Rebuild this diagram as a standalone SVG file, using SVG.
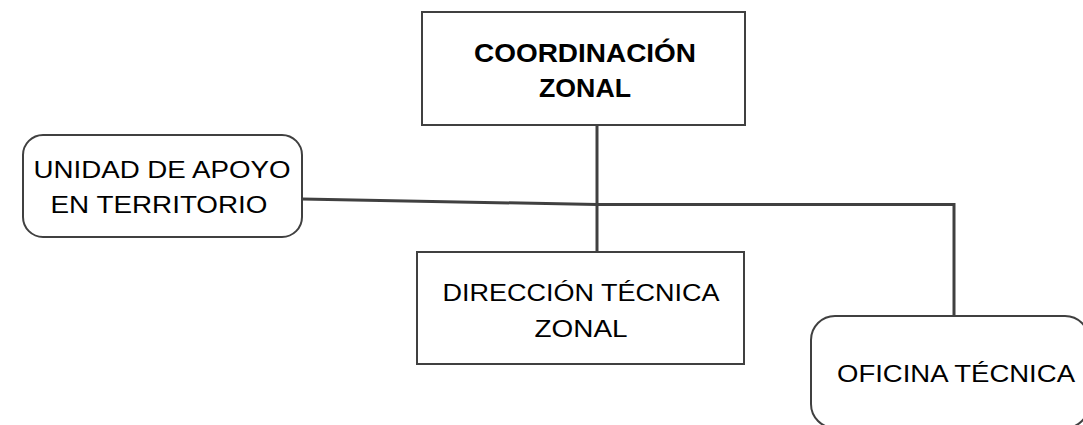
<svg xmlns="http://www.w3.org/2000/svg" width="1083" height="425" viewBox="0 0 1083 425">
<style>
.box{fill:#fff;stroke:#404040;stroke-width:2}
.conn{fill:none;stroke:#404040;stroke-width:3}
.t{font-family:"Liberation Sans",Arial,sans-serif;font-size:24px;fill:#000;text-anchor:middle}
.b{font-weight:bold;font-size:26px}
</style>
<rect width="1083" height="425" fill="#fff"/>
<g id="connectors">
<path class="conn" d="M597 125 V252"/>
<path class="conn" d="M302 199 L597 204.5 H954 V316"/>
</g>
<g id="coordinacion">
<rect class="box" x="422" y="12" width="323" height="113"/>
<text class="t b" x="585" y="62" textLength="222" lengthAdjust="spacingAndGlyphs">COORDINACIÓN</text>
<text class="t b" x="585" y="97" textLength="92" lengthAdjust="spacingAndGlyphs">ZONAL</text>
</g>
<g id="unidad">
<rect class="box" x="23" y="135" width="279" height="102" rx="20"/>
<text class="t" x="162" y="178" textLength="257" lengthAdjust="spacingAndGlyphs">UNIDAD DE APOYO</text>
<text class="t" x="159" y="213" textLength="217" lengthAdjust="spacingAndGlyphs">EN TERRITORIO</text>
</g>
<g id="direccion">
<rect class="box" x="417" y="252" width="327" height="112"/>
<text class="t" x="581" y="301" textLength="277" lengthAdjust="spacingAndGlyphs">DIRECCIÓN TÉCNICA</text>
<text class="t" x="581" y="337" textLength="93" lengthAdjust="spacingAndGlyphs">ZONAL</text>
</g>
<g id="oficina">
<rect class="box" x="811" y="316" width="278" height="112" rx="24"/>
<text class="t" x="956" y="382" textLength="238" lengthAdjust="spacingAndGlyphs">OFICINA TÉCNICA</text>
</g>
</svg>
